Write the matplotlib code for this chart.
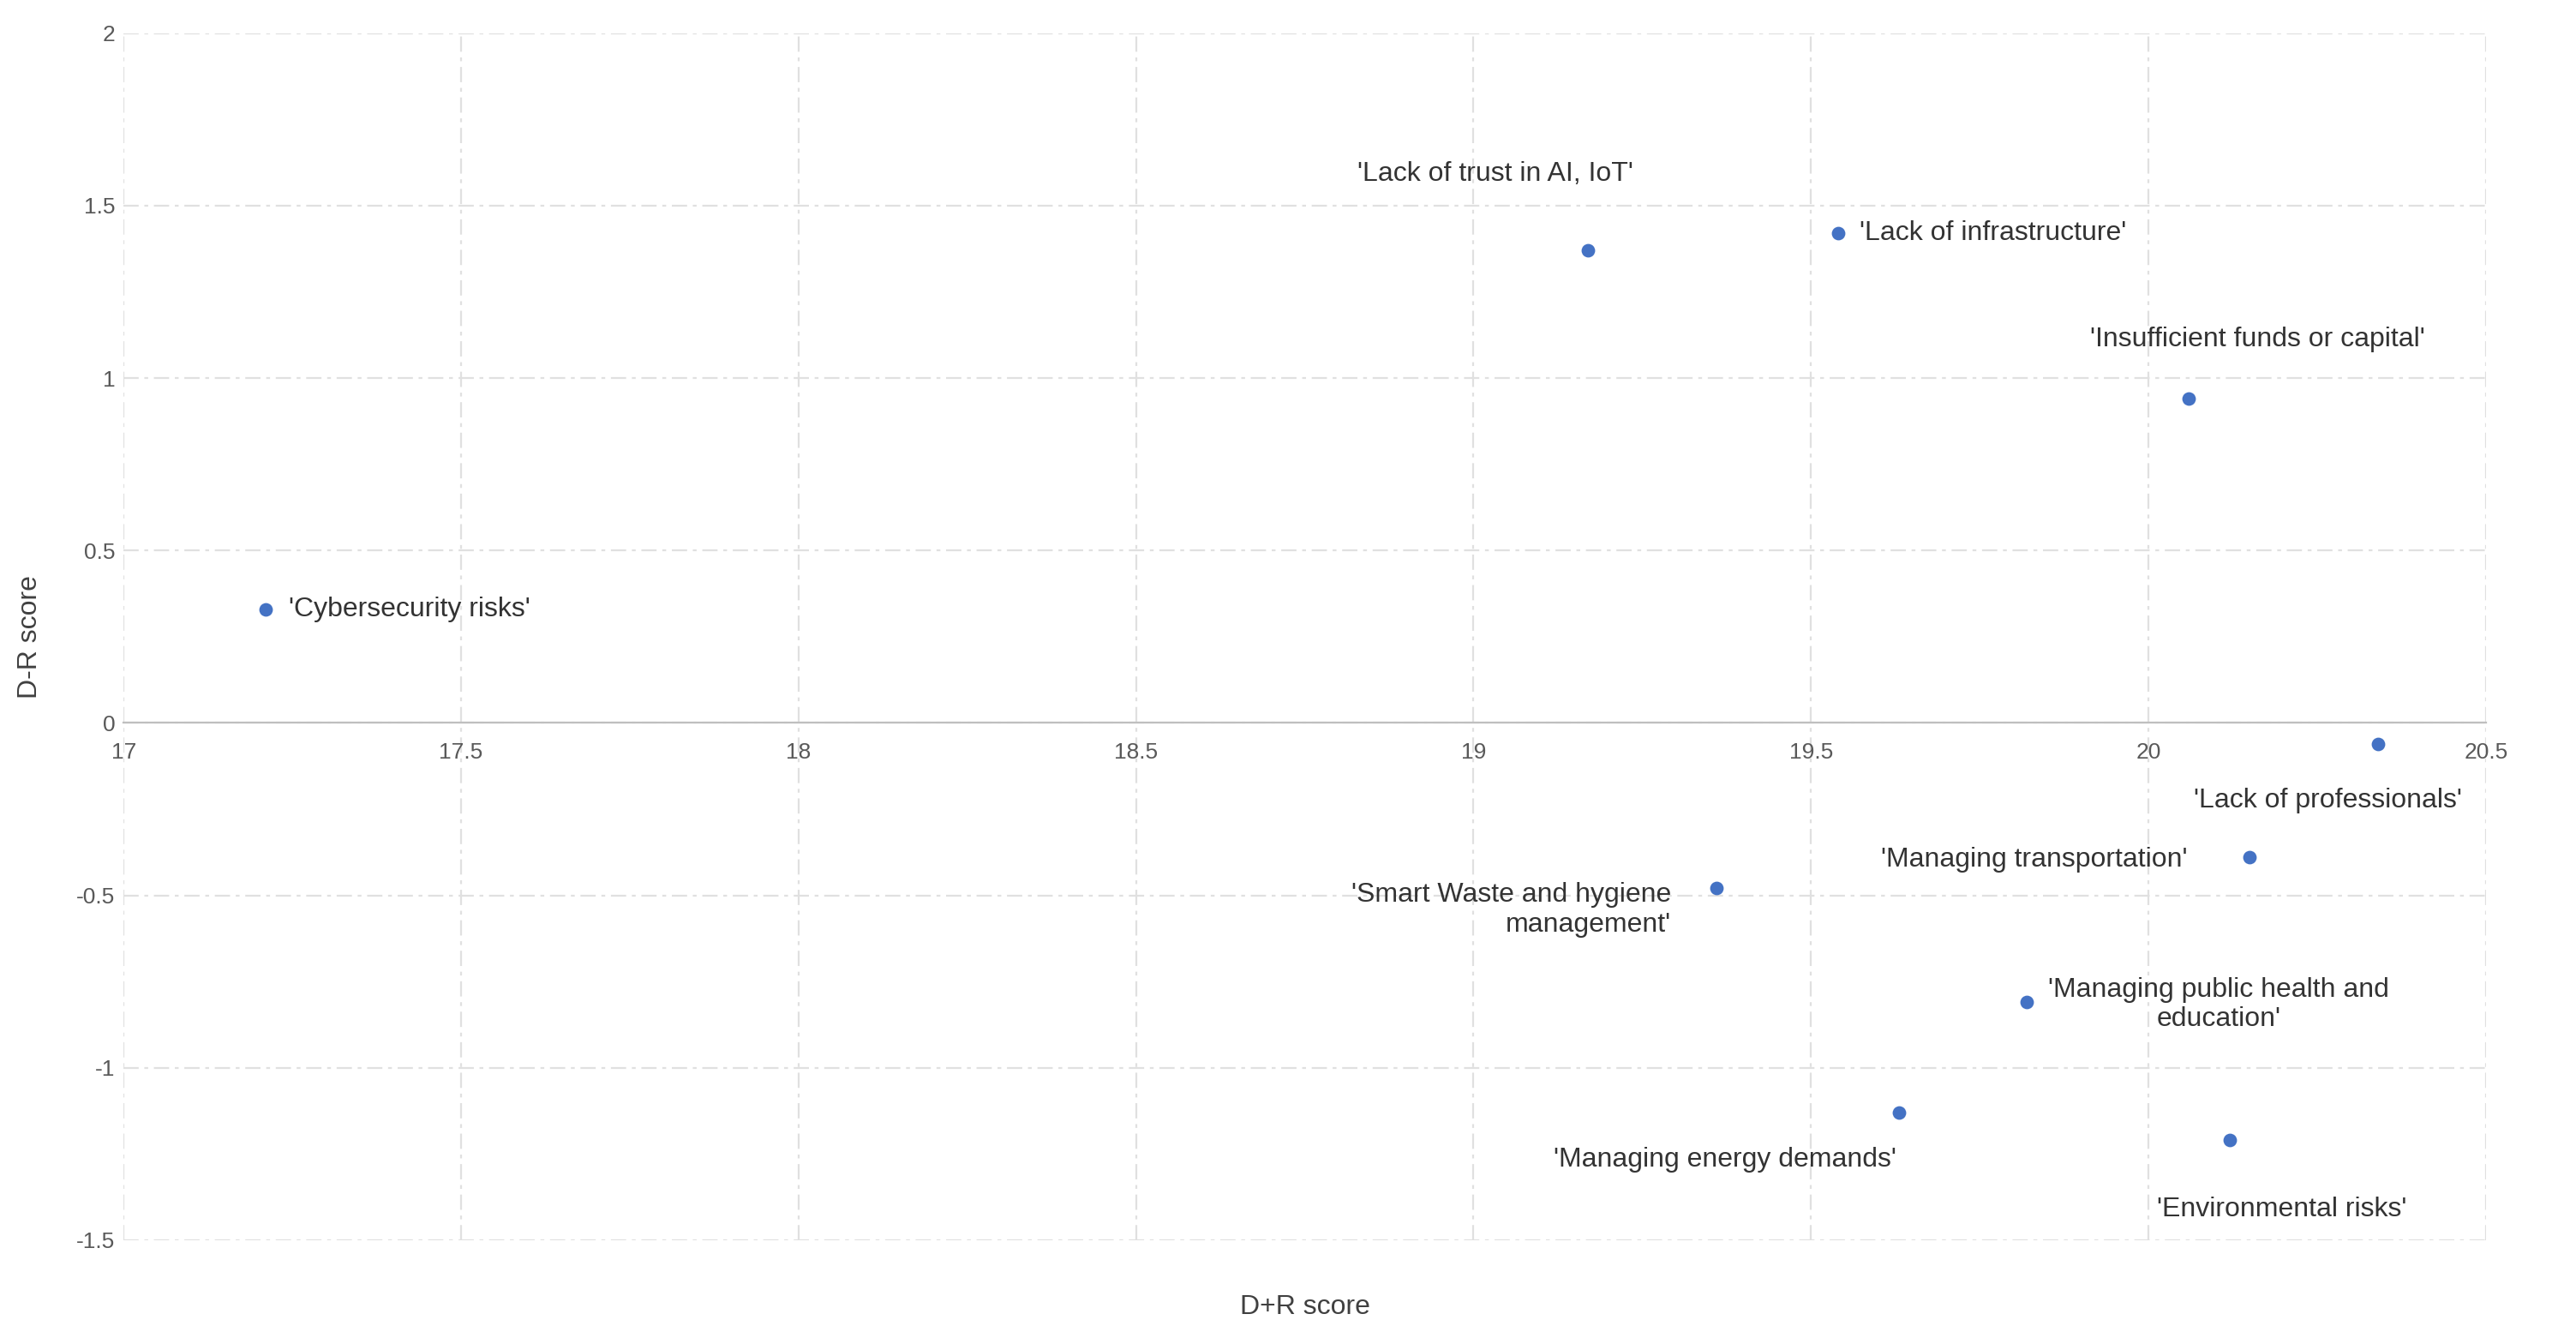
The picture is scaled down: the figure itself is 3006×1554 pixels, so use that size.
import matplotlib.pyplot as plt

plt.rcParams['font.family'] = ['Liberation Sans', 'DejaVu Sans']

labels = ["'Cybersecurity risks'", "'Lack of trust in AI, IoT'", "'Lack of infrastructure'",
          "'Insufficient funds or capital'", "'Lack of professionals'", "'Managing transportation'",
          "'Smart Waste and hygiene\nmanagement'", "'Managing public health and\neducation'",
          "'Managing energy demands'", "'Environmental risks'"]
dr_plus = [17.21, 19.17, 19.54, 20.06, 20.34, 20.15, 19.36, 19.82, 19.63, 20.12]
dr_minus = [0.33, 1.37, 1.42, 0.94, -0.06, -0.39, -0.48, -0.81, -1.13, -1.21]

# label placement (offset points, ha, multialign)
offs = [((10, 0), "left", "left"), ((-39, 32), "center", "center"), ((9, 0), "left", "left"),
        ((29, 25), "center", "center"), ((-21, -24), "center", "center"),
        ((-26, -1), "right", "right"), ((-19, -9), "right", "right"),
        ((9, -1), "left", "center"), ((-73, -20), "center", "center"),
        ((22, -29), "center", "center")]

fig = plt.figure(figsize=(15.03, 7.77), dpi=200)
ax = fig.add_axes([0.048, 0.069, 0.917, 0.906])
ax.scatter(dr_plus, dr_minus, s=22, color="#4472C4", zorder=3)
for lab, x, y, (o, ha, ma) in zip(labels, dr_plus, dr_minus, offs):
    ax.annotate(lab, (x, y), xytext=o, textcoords="offset points", ha=ha, va="center",
                multialignment=ma, fontsize=11.5, color="#333333")

ax.set_xlim(17, 20.5)
ax.set_ylim(-1.5, 2)
ax.set_xticks([17, 17.5, 18, 18.5, 19, 19.5, 20, 20.5])
ax.set_xticklabels(["17", "17.5", "18", "18.5", "19", "19.5", "20", "20.5"])
ax.set_yticks([-1.5, -1, -0.5, 0, 0.5, 1, 1.5, 2])
ax.set_yticklabels(["-1.5", "-1", "-0.5", "0", "0.5", "1", "1.5", "2"])
ax.grid(True, ls=(0, (8, 3, 2, 3)), color="#e0e0e0", lw=0.8)
for s in ["top", "right", "left"]:
    ax.spines[s].set_visible(False)
ax.spines["bottom"].set_position(("data", 0))
ax.spines["bottom"].set_color("#bfbfbf")
ax.tick_params(length=0, labelsize=9.5, colors="#595959")
ax.tick_params(axis="x", pad=8)
ax.set_xlabel("D+R score", fontsize=11.5, color="#404040")
ax.set_ylabel("D-R score", fontsize=11.5, color="#404040", labelpad=14)
ax.xaxis.set_label_coords(0.5, -0.045)

fig.savefig("out.png")
